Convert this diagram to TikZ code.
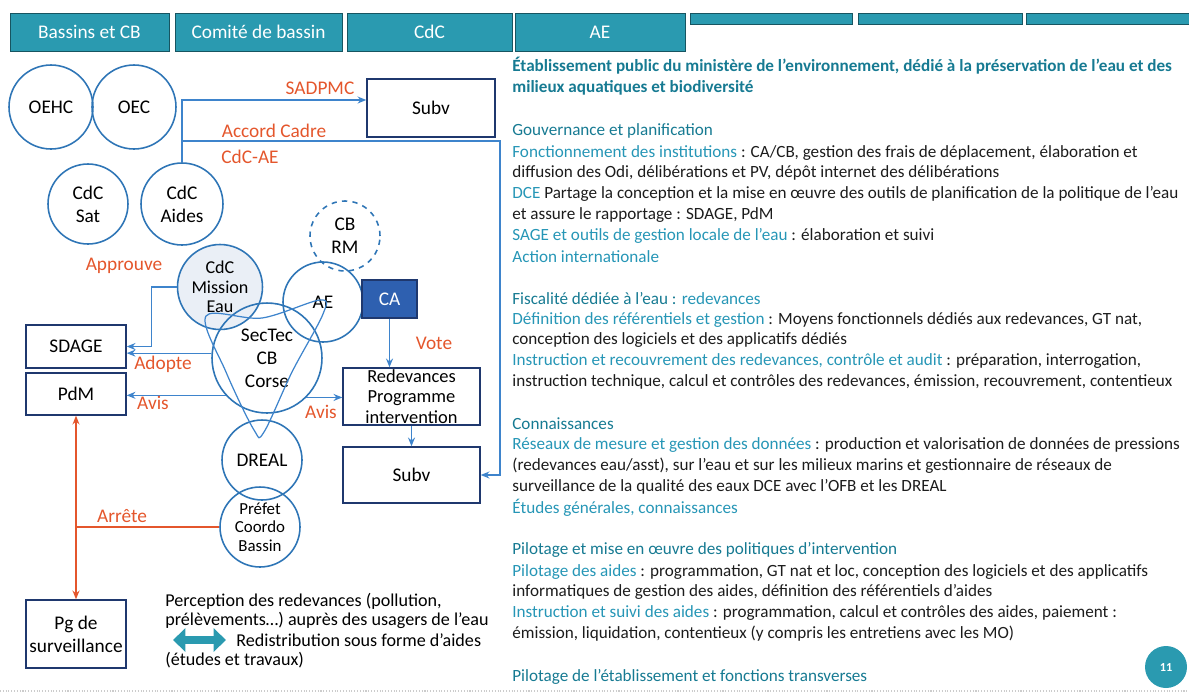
\documentclass[tikz,border=0pt]{standalone}
\usepackage{fontspec}
\setmainfont{Carlito}
\usetikzlibrary{arrows.meta, positioning}
\definecolor{tabteal}{RGB}{42,154,176}
\definecolor{circblue}{RGB}{46,117,182}
\definecolor{lineblue}{RGB}{62,132,204}
\definecolor{boxnavy}{RGB}{31,56,110}
\definecolor{labred}{RGB}{228,86,44}
\definecolor{cafill}{RGB}{46,96,176}
\definecolor{hdteal}{RGB}{22,122,146}
\definecolor{itteal}{RGB}{38,150,182}
\definecolor{bodyink}{RGB}{28,28,28}
\definecolor{missionfill}{RGB}{234,239,246}

\begin{document}
\begin{tikzpicture}[x=0.02cm, y=-0.02cm, >={Stealth[length=5pt,width=4pt]}, font=\fontsize{11}{13}\selectfont]
    \tikzstyle{tab}=[fill=tabteal, draw=tabteal!55!black, line width=0.4pt, text=white, inner sep=0pt, font=\fontsize{11}{12}\selectfont]
    \tikzstyle{thin tab}=[tab, minimum height=0.22cm]
    \tikzstyle{org}=[circle, draw=circblue, line width=0.9pt, inner sep=0pt, minimum size=1.6cm, align=center]
    \tikzstyle{doc}=[rectangle, draw=boxnavy, line width=0.8pt, inner sep=0pt, align=center]
    \tikzstyle{link}=[->, draw=lineblue, line width=0.7pt]
    \tikzstyle{rlink}=[->, draw=labred, line width=0.7pt]
    \tikzstyle{lab}=[text=labred, inner sep=0pt, font=\fontsize{11}{12}\selectfont]
    \tikzstyle{txt}=[anchor=west, inner sep=0pt, text=bodyink, font=\fontsize{9.75}{11}\selectfont]
    \tikzstyle{legend}=[anchor=west, inner sep=0pt, font=\fontsize{10.3}{12}\selectfont]

    \useasboundingbox (0,0) rectangle (1189,697);

    % Header tabs
    \node[tab, minimum width=3.18cm, minimum height=0.76cm] (tab-1) at (89.5,32) {Bassins et CB};
    \node[tab, minimum width=3.34cm, minimum height=0.76cm] (tab-2) at (258.5,32) {Comité de bassin};
    \node[tab, minimum width=3.3cm, minimum height=0.76cm] (tab-3) at (429.5,32) {CdC};
    \node[tab, minimum width=3.4cm, minimum height=0.76cm] (tab-4) at (600,32) {AE};
    \node[thin tab, minimum width=3.24cm] (tab-5) at (771,18.5) {};
    \node[thin tab, minimum width=3.28cm] (tab-6) at (940,18.5) {};
    \node[thin tab, minimum width=3.26cm] (tab-7) at (1107.5,18.5) {};

    % Organisations
    \node[org, minimum size=1.68cm] (oehc) at (51,107) {OEHC};
    \node[org, minimum size=1.68cm] (oec) at (134,107) {OEC};
    \node[org] (cdcsat) at (88,204) {CdC\\Sat};
    \node[org, minimum size=1.64cm] (aides) at (182,204) {CdC\\Aides};
    \node[org, dashed, minimum size=1.4cm] (cbrm) at (345,236) {CB\\RM};
    \node[org, fill=missionfill, minimum size=1.7cm, font=\fontsize{10.3}{11.2}\selectfont] (mission) at (220,287) {CdC\\Mission\\Eau};
    \node[org] (ae) at (323,302) {AE};
    \node[org, minimum size=2.2cm] (sectec) at (267,358) {SecTec\\CB\\Corse};
    \node[org] (dreal) at (262,460) {DREAL};
    \node[org, font=\fontsize{9.6}{10.6}\selectfont] (prefet) at (260,527) {Préfet\\Coordo\\Bassin};

    % loop across the CB
    \draw[lineblue, line width=0.7pt] plot[smooth cycle, tension=0.55] coordinates {(206,316) (262,318) (320,300) (323,314) (292,372) (264,432) (254,430) (226,372)};

    % Documents
    \node[doc, minimum width=2.56cm, minimum height=1.16cm] (subv-1) at (431,108) {Subv};
    \node[doc, fill=cafill, draw=boxnavy, text=white, minimum width=1.1cm, minimum height=0.76cm] (ca) at (389.5,299) {CA};
    \node[doc, minimum width=2.74cm, minimum height=1.14cm, font=\fontsize{10.5}{11.6}\selectfont] (redev) at (411.5,396.5) {Redevances\\Programme\\intervention};
    \node[doc, minimum width=2.74cm, minimum height=1.12cm] (subv-2) at (411.5,475) {Subv};
    \node[doc, minimum width=2cm, minimum height=0.86cm] (sdage) at (76,346.5) {SDAGE};
    \node[doc, minimum width=2cm, minimum height=0.84cm] (pdm) at (76,394) {PdM};
    \node[doc, minimum width=2cm, minimum height=1.36cm] (pg) at (76,634) {Pg de\\surveillance};

    % Connectors
    \coordinate (k-1) at (aides.north |- 0,100);
    \coordinate (k-2) at (aides.north |- 0,141);
    \coordinate (k-3) at (500,141);
    \draw[link] (aides.north) -- (k-1) -- (k-1 -| subv-1.west);
    \draw[link] (k-2) -- (k-3) |- (subv-2.east);
    \draw[link] (mission.west) -- ++(-25,0) |- (sdage.east);
    \draw[link] (sectec.175) -- (sectec.175 -| sdage.east);
    \draw[link] (sectec.222) -- (sectec.222 -| pdm.east);
    \draw[link] (sectec.-45) -- (sectec.-45 -| redev.west);
    \draw[link] (ca.south) -- (ca.south |- redev.north);
    \draw[link] (redev.south) -- (subv-2.north);

    \coordinate (k-4) at (prefet.west -| pdm.south);
    \draw[labred, line width=0.7pt] (prefet.west) -- (k-4);
    \draw[rlink] (k-4) -- (pdm.south);
    \draw[rlink] (k-4) -- (pg.north);

    % Labels
    \node[lab] (l-sadpmc) at (320,88) {SADPMC};
    \node[lab] (l-accord) at (274,131) {Accord Cadre};
    \node[lab, anchor=west] (l-cdcae) at (221,157) {CdC-AE};
    \node[lab] (l-approuve) at (124,266) {Approuve};
    \node[lab] (l-adopte) at (163,364) {Adopte};
    \node[lab] (l-avis-1) at (153,403) {Avis};
    \node[lab] (l-avis-2) at (321,412) {Avis};
    \node[lab] (l-vote) at (434,343) {Vote};
    \node[lab] (l-arrete) at (122,516) {Arrête};

    % Legend
    \node[legend] (leg-1) at (165,601) {Perception des redevances (pollution,};
    \node[legend] (leg-2) at (165,620) {prélèvements…) auprès des usagers de l’eau};
    \node[legend] (leg-3) at (236,640) {Redistribution sous forme d'aides};
    \node[legend] (leg-4) at (165,660) {(études et travaux)};
    \coordinate (dbl-l) at (173,640);
    \coordinate (dbl-r) at (226,640);
    \draw[tabteal, line width=4.5pt, {Triangle[length=7pt,width=13pt]}-{Triangle[length=7pt,width=13pt]}] (dbl-l) -- (dbl-r);

    % Missions of the AE
    \foreach \yy/\txt [count=\i] in {
        66/{\bfseries\color{hdteal}Établissement public du ministère de l’environnement, dédié à la préservation de l’eau et des},
        88/{\bfseries\color{hdteal}milieux aquatiques et biodiversité},
        131/{\color{hdteal}Gouvernance et planification},
        153/{\textcolor{itteal}{Fonctionnement des institutions} : CA/CB, gestion des frais de déplacement, élaboration et},
        173/{diffusion des Odi, délibérations et PV, dépôt internet des délibérations},
        194/{\textcolor{itteal}{DCE} Partage la conception et la mise en œuvre des outils de planification de la politique de l’eau},
        215/{et assure le rapportage : SDAGE, PdM},
        236/{\textcolor{itteal}{SAGE et outils de gestion locale de l’eau} : élaboration et suivi},
        257/{\textcolor{itteal}{Action internationale}},
        299/{\textcolor{hdteal}{Fiscalité dédiée à l’eau :} \textcolor{itteal}{redevances}},
        320/{\textcolor{itteal}{Définition des référentiels et gestion} : Moyens fonctionnels dédiés aux redevances, GT nat,},
        340/{conception des logiciels et des applicatifs dédiés},
        361/{\textcolor{itteal}{Instruction et recouvrement des redevances, contrôle et audit} : préparation, interrogation,},
        382/{instruction technique, calcul et contrôles des redevances, émission, recouvrement, contentieux},
        424/{\textcolor{hdteal}{Connaissances}},
        445/{\textcolor{itteal}{Réseaux de mesure et gestion des données} : production et valorisation de données de pressions},
        466/{(redevances eau/asst), sur l’eau et sur les milieux marins et gestionnaire de réseaux de},
        487/{surveillance de la qualité des eaux DCE avec l’OFB et les DREAL},
        508/{\textcolor{itteal}{Études générales, connaissances}},
        550/{\textcolor{hdteal}{Pilotage et mise en œuvre des politiques d’intervention}},
        572/{\textcolor{itteal}{Pilotage des aides} : programmation, GT nat et loc, conception des logiciels et des applicatifs},
        592/{informatiques de gestion des aides, définition des référentiels d’aides},
        613/{\textcolor{itteal}{Instruction et suivi des aides} : programmation, calcul et contrôles des aides, paiement :},
        634/{émission, liquidation, contentieux (y compris les entretiens avec les MO)},
        677/{\textcolor{hdteal}{Pilotage de l’établissement et fonctions transverses}}}
        \node[txt] (ae-\i) at (512,\yy) {\txt};

    % Page number and footer rule
    \draw[black!20, line width=0.6pt, densely dotted] (0,691) -- (1189,691);
    \node[circle, fill=tabteal, text=white, minimum size=0.84cm, inner sep=0pt, font=\fontsize{7}{8}\bfseries\selectfont] (page) at (1166,667) {11};
\end{tikzpicture}
\end{document}
